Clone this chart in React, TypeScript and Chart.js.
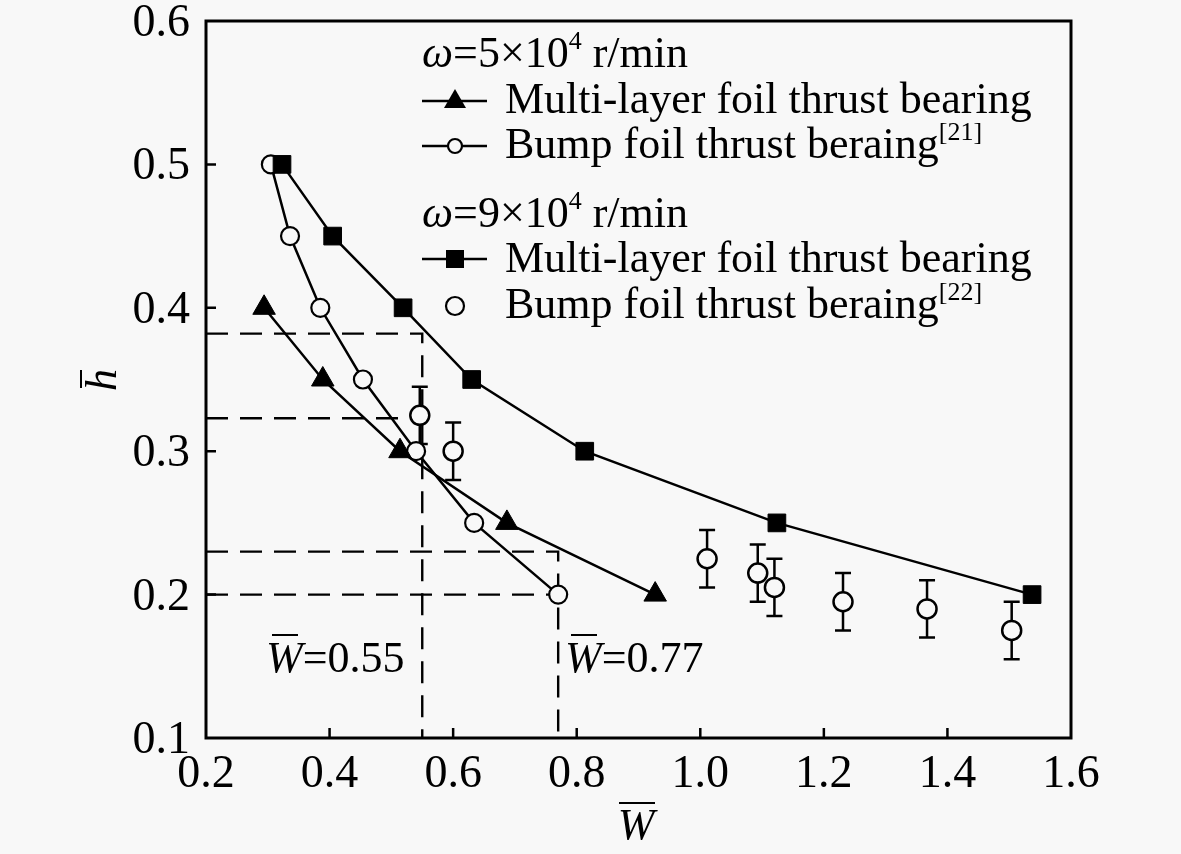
import React, { useEffect, useRef } from 'react';
import { Chart, registerables } from 'chart.js';

Chart.register(...registerables);

// data
const multi5X = [0.294, 0.389, 0.514, 0.687, 0.927];
const multi5Y = [0.4, 0.35, 0.3, 0.25, 0.2];
const bump21X = [0.305, 0.336, 0.385, 0.454, 0.54, 0.634, 0.77];
const bump21Y = [0.5, 0.45, 0.4, 0.35, 0.3, 0.25, 0.2];
const multi9X = [0.323, 0.405, 0.519, 0.63, 0.813, 1.124, 1.537];
const multi9Y = [0.5, 0.45, 0.4, 0.35, 0.3, 0.25, 0.2];
const bump22X = [0.546, 0.6, 1.011, 1.093, 1.12, 1.231, 1.367, 1.504];
const bump22Y = [0.325, 0.3, 0.225, 0.215, 0.205, 0.195, 0.19, 0.175];
const bump22Err = [0.02, 0.02, 0.02, 0.02, 0.02, 0.02, 0.02, 0.02];

// dashed guide lines
const guideA_X = [0.2, 0.55, 0.55];
const guideA_Y = [0.382, 0.382, 0.1];
const guideB_X = [0.2, 0.55];
const guideB_Y = [0.323, 0.323];
const guideC_X = [0.2, 0.77, 0.77];
const guideC_Y = [0.23, 0.23, 0.1];
const guideD_X = [0.2, 0.77];
const guideD_Y = [0.2, 0.2];

const xTicks = [0.2, 0.4, 0.6, 0.8, 1.0, 1.2, 1.4, 1.6];
const yTicks = [0.1, 0.2, 0.3, 0.4, 0.5, 0.6];

const SERIF = '"Liberation Serif", "Times New Roman", serif';
const BG = '#f8f8f8';

const pts = (xs: number[], ys: number[]) => xs.map((x, i) => ({ x, y: ys[i] }));

type Part = { t: string; font: string; dy?: number };

function drawRich(ctx: CanvasRenderingContext2D, parts: Part[], x: number, y: number) {
  ctx.save();
  ctx.textAlign = 'left';
  ctx.textBaseline = 'alphabetic';
  let cx = x;
  for (const p of parts) {
    ctx.font = p.font;
    ctx.fillText(p.t, cx, y + (p.dy || 0));
    cx += ctx.measureText(p.t).width;
  }
  ctx.restore();
}

function bar(ctx: CanvasRenderingContext2D, x1: number, x2: number, y: number) {
  ctx.beginPath();
  ctx.moveTo(x1, y);
  ctx.lineTo(x2, y);
  ctx.lineWidth = 2;
  ctx.stroke();
}

const bgPlugin = {
  id: 'bg',
  beforeDraw(chart: any) {
    const ctx = chart.ctx;
    ctx.save();
    ctx.fillStyle = BG;
    ctx.fillRect(0, 0, chart.width, chart.height);
    ctx.restore();
  },
};

const errorBars = {
  id: 'errorBars',
  beforeDatasetsDraw(chart: any) {
    const ctx = chart.ctx;
    const xs = chart.scales.x;
    const ys = chart.scales.y;
    ctx.save();
    ctx.strokeStyle = '#000';
    ctx.lineWidth = 2.5;
    bump22X.forEach((xv, i) => {
      const px = xs.getPixelForValue(xv);
      const top = ys.getPixelForValue(bump22Y[i] + bump22Err[i]);
      const bot = ys.getPixelForValue(bump22Y[i] - bump22Err[i]);
      ctx.beginPath();
      ctx.moveTo(px, top);
      ctx.lineTo(px, bot);
      ctx.moveTo(px - 8, top);
      ctx.lineTo(px + 8, top);
      ctx.moveTo(px - 8, bot);
      ctx.lineTo(px + 8, bot);
      ctx.stroke();
    });
    ctx.restore();
  },
};

const frame = {
  id: 'frame',
  afterDraw(chart: any) {
    const ctx = chart.ctx;
    const { left, right, top, bottom } = chart.chartArea;
    const xs = chart.scales.x;
    const ys = chart.scales.y;
    ctx.save();
    ctx.strokeStyle = '#000';
    ctx.fillStyle = '#000';
    ctx.lineWidth = 3;
    ctx.strokeRect(left, top, right - left, bottom - top);

    // inward ticks
    ctx.lineWidth = 2.5;
    ctx.beginPath();
    xTicks.slice(1, -1).forEach((v) => {
      const px = xs.getPixelForValue(v);
      ctx.moveTo(px, bottom);
      ctx.lineTo(px, bottom - 10);
    });
    yTicks.slice(1, -1).forEach((v) => {
      const py = ys.getPixelForValue(v);
      ctx.moveTo(left, py);
      ctx.lineTo(left + 10, py);
    });
    ctx.stroke();

    // tick labels
    ctx.font = `46px ${SERIF}`;
    ctx.textBaseline = 'alphabetic';
    ctx.textAlign = 'center';
    xTicks.forEach((v) => {
      ctx.fillText(v.toFixed(1), xs.getPixelForValue(v), 787);
    });
    ctx.textAlign = 'right';
    yTicks.forEach((v) => {
      ctx.fillText(v.toFixed(1), 190, ys.getPixelForValue(v) + 15);
    });

    // axis titles
    ctx.font = `italic 44px ${SERIF}`;
    ctx.textAlign = 'center';
    ctx.fillText('W', 636, 839);
    bar(ctx, 619, 655, 803);

    ctx.save();
    ctx.translate(101, 380);
    ctx.rotate(-Math.PI / 2);
    ctx.font = `italic 44px ${SERIF}`;
    ctx.textAlign = 'center';
    ctx.fillText('h', 0, 15);
    bar(ctx, -8, 10, -20);
    ctx.restore();

    // W = labels
    const lab = (x0: number, txt: string) => {
      drawRich(ctx, [
        { t: 'W', font: `italic 44px ${SERIF}` },
        { t: txt, font: `44px ${SERIF}` },
      ], x0, 672);
      bar(ctx, x0 + 6, x0 + 32, 635);
    };
    lab(266, '=0.55');
    lab(565, '=0.77');

    // legend
    const LF = `44px ${SERIF}`;
    const SF = `26px ${SERIF}`;
    const header = (y: number, n: string) =>
      drawRich(ctx, [
        { t: 'ω', font: `italic 44px ${SERIF}` },
        { t: `=${n}×10`, font: LF },
        { t: '4', font: SF, dy: -18 },
        { t: ' r/min', font: LF },
      ], 422, y);
    header(67, '5');
    header(227, '9');

    const rowLine = (y: number) => {
      ctx.beginPath();
      ctx.lineWidth = 2.5;
      ctx.moveTo(422, y);
      ctx.lineTo(487, y);
      ctx.stroke();
    };
    const circle = (x: number, y: number, r: number) => {
      ctx.beginPath();
      ctx.arc(x, y, r, 0, Math.PI * 2);
      ctx.fillStyle = BG;
      ctx.fill();
      ctx.lineWidth = 2.2;
      ctx.stroke();
      ctx.fillStyle = '#000';
    };

    // row 1: triangle
    rowLine(101);
    ctx.beginPath();
    ctx.moveTo(455, 89);
    ctx.lineTo(466, 108);
    ctx.lineTo(444, 108);
    ctx.closePath();
    ctx.fill();
    drawRich(ctx, [{ t: 'Multi-layer foil thrust bearing', font: LF }], 505, 113);

    // row 2: open circle with line
    rowLine(146);
    circle(455, 146, 7);
    drawRich(ctx, [
      { t: 'Bump foil thrust beraing', font: LF },
      { t: '[21]', font: SF, dy: -18 },
    ], 505, 158);

    // row 3: square
    rowLine(259);
    ctx.fillRect(446, 250, 18, 18);
    drawRich(ctx, [{ t: 'Multi-layer foil thrust bearing', font: LF }], 505, 272);

    // row 4: open circle only
    circle(455, 306, 9);
    drawRich(ctx, [
      { t: 'Bump foil thrust beraing', font: LF },
      { t: '[22]', font: SF, dy: -18 },
    ], 505, 318);

    ctx.restore();
  },
};

const guide = (xs: number[], ys: number[]) => ({
  data: pts(xs, ys),
  showLine: true,
  borderColor: '#000',
  borderWidth: 2.4,
  borderDash: [22, 12],
  pointRadius: 0,
});

const App = () => {
  const canvasRef = useRef<HTMLCanvasElement>(null);
  const chartRef = useRef<Chart | null>(null);

  useEffect(() => {
    const ctx = canvasRef.current?.getContext('2d');
    if (chartRef.current) chartRef.current.destroy();
    if (ctx) {
      chartRef.current = new Chart(ctx, {
        type: 'scatter',
        data: {
          datasets: [
            {
              data: pts(multi9X, multi9Y),
              showLine: true,
              borderColor: '#000',
              borderWidth: 2.5,
              pointStyle: 'rect',
              pointRadius: 12.5,
              pointBackgroundColor: '#000',
              pointBorderColor: '#000',
              pointBorderWidth: 1,
            },
            {
              data: pts(multi5X, multi5Y),
              showLine: true,
              borderColor: '#000',
              borderWidth: 2.5,
              pointStyle: 'triangle',
              pointRadius: 13,
              pointBackgroundColor: '#000',
              pointBorderColor: '#000',
              pointBorderWidth: 1,
            },
            {
              data: pts(bump21X, bump21Y),
              showLine: true,
              borderColor: '#000',
              borderWidth: 2.5,
              pointStyle: 'circle',
              pointRadius: 9,
              pointBackgroundColor: BG,
              pointBorderColor: '#000',
              pointBorderWidth: 2.2,
            },
            {
              data: pts(bump22X, bump22Y),
              showLine: false,
              pointStyle: 'circle',
              pointRadius: 9.5,
              pointBackgroundColor: BG,
              pointBorderColor: '#000',
              pointBorderWidth: 2.5,
            },
            guide(guideA_X, guideA_Y),
            guide(guideB_X, guideB_Y),
            guide(guideC_X, guideC_Y),
            guide(guideD_X, guideD_Y),
          ] as any,
        },
        options: {
          animation: false,
          responsive: true,
          maintainAspectRatio: false,
          layout: { padding: { left: 206, top: 21, right: 110, bottom: 116 } },
          plugins: { legend: { display: false }, tooltip: { enabled: false } },
          scales: {
            x: {
              type: 'linear',
              min: 0.2,
              max: 1.6,
              ticks: { display: false },
              grid: { display: false, drawTicks: false },
              border: { display: false },
              afterFit: (s: any) => { s.height = 0; },
            },
            y: {
              type: 'linear',
              min: 0.1,
              max: 0.6,
              ticks: { display: false },
              grid: { display: false, drawTicks: false },
              border: { display: false },
              afterFit: (s: any) => { s.width = 0; },
            },
          },
        },
        plugins: [bgPlugin, errorBars, frame],
      });
    }
    return () => {
      if (chartRef.current) chartRef.current.destroy();
    };
  }, []);

  return (
    <div style={{ position: 'fixed', left: 0, top: 0, width: '1181px', height: '854px' }}>
      <canvas ref={canvasRef} />
    </div>
  );
};

export default App;
